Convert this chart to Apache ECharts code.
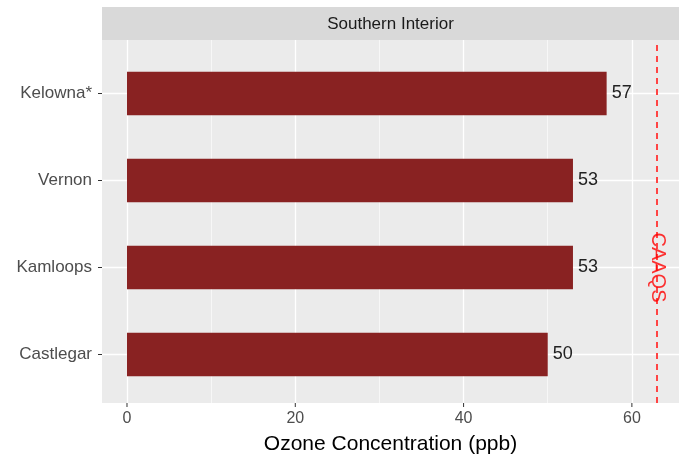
<!DOCTYPE html>
<html>
<head>
<meta charset="utf-8">
<script src="https://cdn.jsdelivr.net/npm/echarts@6/dist/echarts.min.js"></script>
<style>
html, body {margin: 0; padding: 0; background: #fff;}
#figure0 {width: 679px; height: 460px;}
</style>
</head>
<body>
<div id="figure0"></div>
<script>
var sites = ['Kelowna*', 'Vernon', 'Kamloops', 'Castlegar'];
var ozone = [57, 53, 53, 50];
var xTicks = [0, 20, 40, 60];
var xMinor = [10, 30, 50];
var caaqs = 63;
var facet = 'Southern Interior';

var figure0 = echarts.init(document.getElementById('figure0'));
var font = 'Liberation Sans, Arial, sans-serif';
var noLine = {show: true, onZero: false, lineStyle: {color: 'rgba(0,0,0,0)'}};

function vLines(vals, width) {
    return vals.map(function (v) {return {xAxis: v, lineStyle: {color: '#fff', width: width, type: 'solid'}}; });
}

var option = {
    animation: false,
    textStyle: {fontFamily: font},
    graphic: [{
        type: 'rect',
        shape: {x: 102, y: 7, width: 577, height: 33},
        style: {fill: '#D9D9D9'}
    }, {
        type: 'text',
        x: 390.5, y: 24,
        style: {text: facet, align: 'center', verticalAlign: 'middle', font: '17px ' + font, fill: '#1A1A1A'}
    }],
    grid: [
        {left: 102, right: 0, top: 40, bottom: 52, show: true, backgroundColor: '#EBEBEB', borderWidth: 0},
        {left: 102, right: 0, top: 50, bottom: 62}
    ],
    xAxis: [{
        gridIndex: 0, type: 'value', min: -2.97, max: 65.6, z: 8,
        name: 'Ozone Concentration (ppb)', nameLocation: 'middle', nameGap: 31,
        nameTextStyle: {fontSize: 21, color: '#000', fontFamily: font},
        axisLine: noLine,
        axisTick: {show: false},
        axisLabel: {customValues: xTicks, fontSize: 16, color: '#4D4D4D', margin: 8},
        splitLine: {show: false}
    }, {
        gridIndex: 1, type: 'value', min: -2.97, max: 65.6, show: false
    }],
    yAxis: [{
        gridIndex: 0, type: 'value', min: 0, max: 1, show: false
    }, {
        gridIndex: 1, type: 'category', data: sites, inverse: true, z: 8,
        axisLine: noLine,
        axisTick: {show: true, alignWithLabel: true, length: 4, lineStyle: {color: '#333', width: 1}},
        axisLabel: {fontSize: 17, color: '#4D4D4D', margin: 10},
        splitLine: {show: false}
    }],
    series: [{
        // vertical panel grid lines
        type: 'line', xAxisIndex: 0, yAxisIndex: 0, data: [], z: 1,
        markLine: {
            silent: true, symbol: 'none', label: {show: false}, z: 1,
            data: vLines(xMinor, 0.6).concat(vLines(xTicks, 1.3))
        }
    }, {
        // x axis tick marks below the panel
        type: 'custom', xAxisIndex: 0, yAxisIndex: 0, z: 9, clip: false, silent: true,
        data: xTicks.map(function (v) {return [v, 0]; }),
        renderItem: function (params, api) {
            var p = api.coord([api.value(0), api.value(1)]);
            return {type: 'line', shape: {x1: p[0], y1: p[1], x2: p[0], y2: p[1] + 4},
                    style: {stroke: '#333', lineWidth: 1}};
        }
    }, {
        // CAAQS limit
        type: 'line', xAxisIndex: 0, yAxisIndex: 0, data: [], z: 5,
        markLine: {
            silent: true, symbol: 'none', label: {show: false}, z: 5,
            data: [{xAxis: caaqs, lineStyle: {color: '#FF4444', width: 2, type: [6, 5]}}]
        }
    }, {
        // horizontal category grid lines
        type: 'line', xAxisIndex: 1, yAxisIndex: 1, data: [], z: 1,
        markLine: {
            silent: true, symbol: 'none', label: {show: false}, z: 1,
            data: sites.map(function (s) {return {yAxis: s, lineStyle: {color: '#fff', width: 1.3, type: 'solid'}}; })
        }
    }, {
        name: 'Ozone', type: 'bar', xAxisIndex: 1, yAxisIndex: 1, z: 3,
        data: ozone, barWidth: '50%',
        itemStyle: {color: '#892222'},
        label: {show: true, position: 'right', distance: 5, fontSize: 18, color: '#222', fontFamily: font}
    }, {
        type: 'scatter', xAxisIndex: 1, yAxisIndex: 1, z: 6, symbolSize: 0,
        data: [[caaqs, 'Kamloops']],
        label: {show: true, position: 'inside', rotate: -90, formatter: 'CAAQS', fontSize: 20, color: '#FF0000', fontFamily: font}
    }]
};
figure0.setOption(option);
</script>
</body>
</html>
